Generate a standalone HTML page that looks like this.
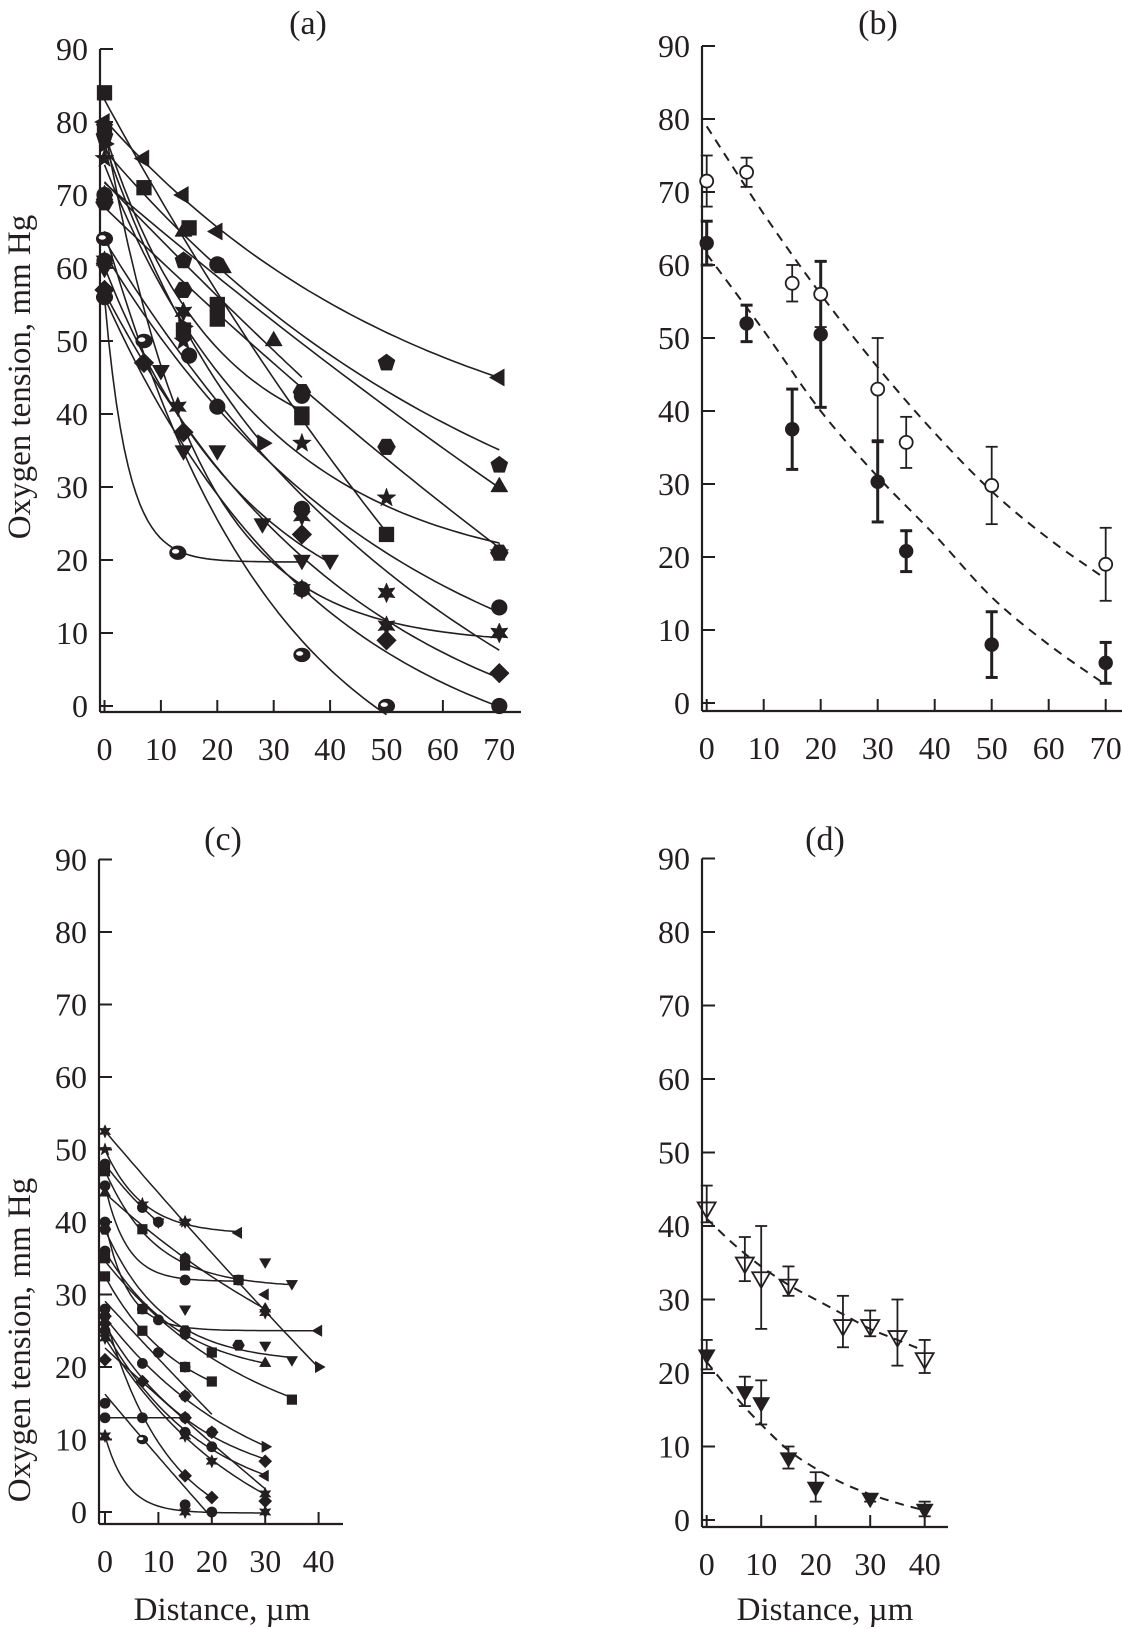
<!DOCTYPE html>
<html><head><meta charset="utf-8">
<style>
html,body{margin:0;padding:0;background:#fff;}
svg{display:block;}
text{font-family:"Liberation Serif",serif;fill:#231f20;}
</style></head>
<body>
<svg id="fig" width="1122" height="1629" viewBox="0 0 1122 1629" xmlns="http://www.w3.org/2000/svg"></svg>
<script>
// ---------- Panel (a) data ----------
const aSeries = [
  {m:'ltri',  x:[0,7,14,20,70],      y:[80,75,70,65,45]},
  {m:'pent',  x:[0,14,50,70],        y:[78,61,47,33]},
  {m:'tri',   x:[0,14,21,30,70],     y:[70,65,60,50,30]},
  {m:'hex',   x:[0,14,35,50,70],     y:[69,57,43,35.5,21]},
  {m:'sq',    x:[0,7,15,20,35,50],   y:[84,71,65.5,55,40,23.5]},
  {m:'star5', x:[0,14,35,50,70],     y:[75,50,36,28.5,21]},
  {m:'circ',  x:[0,15,20,35,70],     y:[61,48,41,27,13.5]},
  {m:'star6', x:[0,14,35,50,70],     y:[61,54,26,15.5,10]},
  {m:'diam',  x:[0,7,14,35,50,70],   y:[57,47,37.5,23.5,9,4.5]},
  {m:'dtri',  x:[0,10,14,20,28,40],  y:[60,46,35,35,25,20]},
  {m:'sphere',x:[0,7,35,50],         y:[64,50,7,0]},
  {m:'sphere',x:[0,13,35],           y:[56,21,20], end:'dtri'},
  {m:'circ',  x:[0,35,70],           y:[56,16,0]},
  {m:'rtri',  x:[0,14,28],           y:[77,52,36]},
  {m:'circ',  x:[0,20,35],           y:[70,60.5,42.5]},
  {m:'sq',    x:[0,14,20,35],        y:[79,51.5,53,39.5]},
  {m:'star6', x:[0,13,35,50,70],     y:[79,41,16,11,10]}
];
// ---------- Panel (b) data ----------
const bX = [0,7,15,20,30,35,50,70];
const bOpen = [71.5,72.7,57.5,56,43,35.7,29.8,19];
const bOpenErr = [3.5,2,2.5,4.5,7,3.5,5.3,5];
const bFilled = [63,52,37.5,50.5,30.3,20.8,8,5.5];
const bFilledErr = [3,2.5,5.5,10,5.5,2.8,4.5,2.8];
const bFitX = [0,10,20,30,40,50,60,70];
const bFitOpen = [79,67,56,46,37,29,22.5,17];
const bFitFilled = [61.5,51,40,31,23,14.5,8,2.5];
// ---------- Panel (c) data ----------
const cSeries = [
  {m:'star6', x:[0,15,30,40],     y:[52.5,40,27.5,20], end:'rtri'},
  {m:'star5', x:[0,7,15,25],      y:[50,42.5,40,38.5], end:'ltri'},
  {m:'circ',  x:[0,7,10],         y:[48,42,40]},
  {m:'sq',    x:[0,7,15,25,35],   y:[47,39,34,32,31.5], end:'dtri'},
  {m:'circ',  x:[0,15,25],        y:[45,32,32]},
  {m:'tri',   x:[0,15,30],        y:[44,35,28]},
  {m:'circ',  x:[0,7,10,40],      y:[40,28,26.5,25], end:'ltri'},
  {m:'hex',   x:[0,15,25,35],     y:[39,25,23,21], end:'dtri'},
  {m:'circ',  x:[0,15,30],        y:[36,24.5,20.5], end:'tri'},
  {m:'sq',    x:[0,7,20,35],      y:[35,28,22,15.5]},
  {m:'sq',    x:[0,7,15,20],      y:[32.5,25,20,18]},
  {m:'circ',  x:[0,10,15,20],     y:[28,22,20,11]},
  {m:'circ',  x:[0,7,15,30],      y:[27,20.5,16,9], end:'rtri'},
  {m:'diam',  x:[0,7,15,20,30],   y:[26,18,13,11,7]},
  {m:'circ',  x:[0,15,20,30],     y:[25,11,9,5], end:'ltri'},
  {m:'star6', x:[0,15,20,30],     y:[24,10.5,7,2.5]},
  {m:'diam',  x:[0,15,30],        y:[21,16,1.5]},
  {m:'circ',  x:[0,7,15,20],      y:[15,13,1,0]},
  {m:'diam',  x:[0,15,20],        y:[27,5,2]},
  {m:'star6', x:[0,15,30],        y:[10.5,0,0]},
  {m:'circ',  x:[0,15],           y:[13,13]}
];
const cExtraX = [10,15,30,30,30,7,15];
const cExtraY = [40,28,34.5,30,23,10,35];
const cExtraM = ['dtri','dtri','dtri','ltri','dtri','sphere','circ'];
// ---------- Panel (d) data ----------
const dXOpen = [0,7,10,15,25,30,35,40];
const dOpen = [42.5,35,33,32,26.5,26.5,25,22];
const dOpenUp = [3,3.5,7,2.5,4,2,5,2.5];
const dOpenDn = [2,2.5,7,1.5,3,1.5,4,2];
const dXFilled = [0,7,10,15,20,30,40];
const dFilled = [22.5,17.5,16,8.5,4.5,3,1.5];
const dFilledErr = [2,2,3,1.5,2,0.5,1];
const dFitX = [0,5,10,15,20,25,30,35,40];
const dFitOpen = [41,37.5,34.5,32,30,28,26,24.5,23];
const dFitFilled = [21.5,17,13,9.5,7,5,3.5,2.3,1.3];
const yTicks = [0,10,20,30,40,50,60,70,80,90];
const xTicksAB = [0,10,20,30,40,50,60,70];
const xTicksCD = [0,10,20,30,40];

const NS='http://www.w3.org/2000/svg';
const svg=document.getElementById('fig');
function el(tag,attrs,parent){const e=document.createElementNS(NS,tag);for(const k in attrs)e.setAttribute(k,attrs[k]);(parent||svg).appendChild(e);return e;}

function makeAxes(P,xTicks){
  const g=el('g',{});
  
  
  P.sx=v=>P.x0+v*P.px; P.sy=v=>P.y0-v*P.py;
  const top=P.sy(90);
  el('line',{x1:P.ax,y1:top,x2:P.ax,y2:P.axY,stroke:'#231f20','stroke-width':2.2},g);
  el('line',{x1:P.ax,y1:P.axY,x2:P.axEnd,y2:P.axY,stroke:'#231f20','stroke-width':2.2},g);
  yTicks.forEach(t=>{
    el('line',{x1:P.ax,y1:P.sy(t),x2:P.ax+13,y2:P.sy(t),stroke:'#231f20','stroke-width':2},g);
    const tx=el('text',{x:P.ax-12,y:P.sy(t)+11,'text-anchor':'end','font-size':32},g);
    tx.textContent=t;
    
    
  });
  xTicks.forEach(t=>{
    el('line',{x1:P.sx(t),y1:P.axY,x2:P.sx(t),y2:P.axY-12,stroke:'#231f20','stroke-width':2},g);
    const tx=el('text',{x:P.sx(t),y:P.axY+48,'text-anchor':'middle','font-size':32},g);
    tx.textContent=t;
    
    
  });
  const tt=el('text',{x:P.titleX,y:P.titleY,'text-anchor':'middle','font-size':34},g);
  tt.textContent=P.title;
  
  
}

function marker(m,cx,cy,r,parent,fill){
  const f=fill||'#231f20';
  const poly=(pts)=>el('polygon',{points:pts.map(p=>p.join(',')).join(' '),fill:f,stroke:f,'stroke-width':0.5},parent);
  const reg=(n,rad,rot)=>{const p=[];for(let i=0;i<n;i++){const a=rot+i*2*Math.PI/n;p.push([cx+rad*Math.cos(a),cy+rad*Math.sin(a)]);}return p;};
  const star=(n,ro,ri)=>{const p=[];for(let i=0;i<2*n;i++){const a=-Math.PI/2+i*Math.PI/n;const rr=i%2?ri:ro;p.push([cx+rr*Math.cos(a),cy+rr*Math.sin(a)]);}return p;};
  let e;
  switch(m){
    case 'circ': e=el('circle',{cx,cy,r:r*0.9,fill:f},parent);break;
    case 'sq': e=el('rect',{x:cx-r*0.85,y:cy-r*0.85,width:r*1.7,height:r*1.7,fill:f},parent);break;
    case 'tri': e=poly(reg(3,r*1.1,-Math.PI/2));break;
    case 'dtri': e=poly(reg(3,r*1.1,Math.PI/2));break;
    case 'ltri': e=poly(reg(3,r*1.1,Math.PI));break;
    case 'rtri': e=poly(reg(3,r*1.1,0));break;
    case 'diam': e=poly(reg(4,r*1.1,0));break;
    case 'pent': e=poly(reg(5,r,-Math.PI/2));break;
    case 'hex': e=poly(reg(6,r,0));break;
    case 'star5': e=poly(star(5,r*1.1,r*0.45));break;
    case 'star6': e=poly(star(6,r*1.1,r*0.55));break;
    case 'sphere':
      e=el('ellipse',{cx,cy,rx:r*0.95,ry:r*0.8,fill:'#231f20'},parent);
      el('ellipse',{cx:cx-r*0.25,cy:cy-r*0.15,rx:r*0.4,ry:r*0.25,fill:'#fff'},parent);break;
    case 'ocirc': e=el('circle',{cx,cy,r:r,fill:'#fff',stroke:'#231f20','stroke-width':1.8},parent);break;
    case 'odtri': e=el('polygon',{points:reg(3,r*1.15,Math.PI/2).map(p=>p.join(',')).join(' '),fill:'none',stroke:'#231f20','stroke-width':1.8},parent);break;
  }
  
  
  return e;
}

function spline(pts){
  if(pts.length<2)return '';
  let d='M'+pts[0][0]+','+pts[0][1];
  for(let i=0;i<pts.length-1;i++){
    const p0=pts[i-1]||pts[i],p1=pts[i],p2=pts[i+1],p3=pts[i+2]||p2;
    const c1=[p1[0]+(p2[0]-p0[0])/6,p1[1]+(p2[1]-p0[1])/6];
    const c2=[p2[0]-(p3[0]-p1[0])/6,p2[1]-(p3[1]-p1[1])/6];
    d+=' C'+c1[0]+','+c1[1]+' '+c2[0]+','+c2[1]+' '+p2[0]+','+p2[1];
  }
  return d;
}

// least-squares exponential fit y = c + b*exp(-k x)
function expFit(xs,ys){
  let best=null;
  for(let k=0.003;k<0.25;k*=1.05){
    const e=xs.map(x=>Math.exp(-k*x));
    const n=xs.length;
    const me=e.reduce((a,b)=>a+b,0)/n, my=ys.reduce((a,b)=>a+b,0)/n;
    let sxy=0,sxx=0;
    for(let i=0;i<n;i++){sxy+=(e[i]-me)*(ys[i]-my);sxx+=(e[i]-me)*(e[i]-me);}
    const b=sxx>1e-12?sxy/sxx:0, c=my-b*me;
    let sse=0;for(let i=0;i<n;i++){const r=ys[i]-(c+b*e[i]);sse+=r*r;}
    if(xs.length<=2)sse=Math.abs(k-0.03);
    if(!best||sse<best.sse)best={k,b,c,sse};
  }
  return x=>best.c+best.b*Math.exp(-best.k*x);
}
function fitPath(P,xs,ys){
  const f=expFit(xs,ys);
  const x0=Math.min(...xs),x1=Math.max(...xs);
  let d='';
  for(let i=0;i<=50;i++){const x=x0+(x1-x0)*i/50;d+=(i?'L':'M')+P.sx(x).toFixed(1)+','+P.sy(f(x)).toFixed(1);}
  return d;
}

function errBar(P,x,y,up,dn,g,cap,w){
  const X=P.sx(x),Y1=P.sy(y+up),Y2=P.sy(y-dn);
  el('line',{x1:X,y1:Y1,x2:X,y2:Y2,stroke:'#231f20','stroke-width':w},g);
  el('line',{x1:X-cap,y1:Y1,x2:X+cap,y2:Y1,stroke:'#231f20','stroke-width':w},g);
  el('line',{x1:X-cap,y1:Y2,x2:X+cap,y2:Y2,stroke:'#231f20','stroke-width':w},g);
}

function label(txt,x,y,rot,name){
  const t=el('text',{x,y,'text-anchor':'middle','font-size':33,transform:rot?`rotate(-90 ${x} ${y})`:''});
  t.textContent=txt;
  
  
}

// ---- Panel A ----
const PA={name:'panel-a',x0:104.5,px:5.64,y0:706,py:7.3,ax:100,axY:712,axEnd:521,title:'(a)',titleX:308,titleY:34};
makeAxes(PA,xTicksAB);
const gA=el('g',{});


aSeries.forEach(s=>{
  const p=el('path',{d:fitPath(PA,s.x,s.y),fill:'none',stroke:'#231f20','stroke-width':1.6},gA);
  
  
  s.x.forEach((v,i)=>marker((i===s.x.length-1&&s.end)?s.end:s.m,PA.sx(v),PA.sy(s.y[i]),9,gA));
});
label('Oxygen tension, mm Hg',30,377,true,'y-axis-title-a');

// ---- Panel B ----
const PB={name:'panel-b',x0:706.7,px:5.7,y0:703,py:7.3,ax:702,axY:711,axEnd:1122,title:'(b)',titleX:878,titleY:34};
makeAxes(PB,xTicksAB);
const gB=el('g',{});


[[bFitOpen,'fit-open'],[bFitFilled,'fit-filled']].forEach(([arr,nm])=>{
  const pts=bFitX.map((v,i)=>[PB.sx(v),PB.sy(arr[i])]);
  const p=el('path',{d:spline(pts),fill:'none',stroke:'#231f20','stroke-width':2,'stroke-dasharray':'9,7'},gB);
  
  
});
bX.forEach((v,i)=>{errBar(PB,v,bOpen[i],bOpenErr[i],bOpenErr[i],gB,6,1.8);});
bX.forEach((v,i)=>{errBar(PB,v,bFilled[i],bFilledErr[i],bFilledErr[i],gB,6,3);});
bX.forEach((v,i)=>marker('ocirc',PB.sx(v),PB.sy(bOpen[i]),6.5,gB));
bX.forEach((v,i)=>marker('circ',PB.sx(v),PB.sy(bFilled[i]),8,gB));

// ---- Panel C ----
const PC={name:'panel-c',x0:105,px:5.34,y0:1512,py:7.25,ax:99,axY:1524,axEnd:343,title:'(c)',titleX:223,titleY:850};
makeAxes(PC,xTicksCD);
const gC=el('g',{});


cSeries.forEach(s=>{
  const p=el('path',{d:fitPath(PC,s.x,s.y),fill:'none',stroke:'#231f20','stroke-width':1.5},gC);
  
  
  s.x.forEach((v,i)=>marker((i===s.x.length-1&&s.end)?s.end:s.m,PC.sx(v),PC.sy(s.y[i]),6,gC));
});
cExtraX.forEach((v,i)=>marker(cExtraM[i],PC.sx(v),PC.sy(cExtraY[i]),6,gC));
label('Oxygen tension, mm Hg',30,1340,true,'y-axis-title-c');
label('Distance, µm',222,1620,false,'x-axis-title-c');

// ---- Panel D ----
const PD={name:'panel-d',x0:706.7,px:5.45,y0:1520,py:7.35,ax:702,axY:1527,axEnd:948,title:'(d)',titleX:825,titleY:850};
makeAxes(PD,xTicksCD);
const gD=el('g',{});


[[dFitOpen,'fit-open'],[dFitFilled,'fit-filled']].forEach(([arr,nm])=>{
  const pts=dFitX.map((v,i)=>[PD.sx(v),PD.sy(arr[i])]);
  const p=el('path',{d:spline(pts),fill:'none',stroke:'#231f20','stroke-width':2,'stroke-dasharray':'9,7'},gD);
  
  
});
dXOpen.forEach((v,i)=>errBar(PD,v,dOpen[i],dOpenUp[i],dOpenDn[i],gD,6,1.8));
dXFilled.forEach((v,i)=>errBar(PD,v,dFilled[i],dFilledErr[i],dFilledErr[i],gD,6,1.8));
dXOpen.forEach((v,i)=>marker('odtri',PD.sx(v),PD.sy(dOpen[i]),9,gD));
dXFilled.forEach((v,i)=>marker('dtri',PD.sx(v),PD.sy(dFilled[i]),9,gD));
label('Distance, µm',825,1620,false,'x-axis-title-d');
</script>
</body></html>
